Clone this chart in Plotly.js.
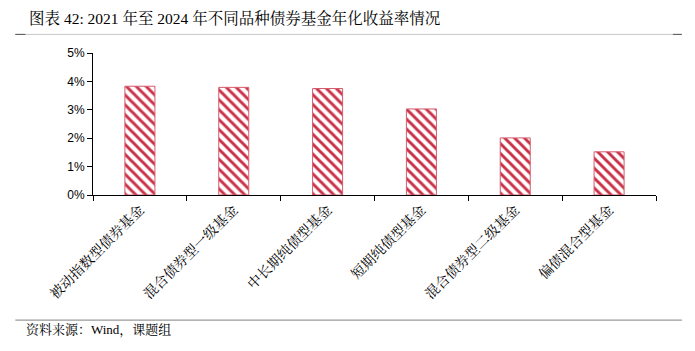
<!DOCTYPE html>
<html>
<head>
<meta charset="utf-8">
<script src="https://cdn.plot.ly/plotly-3.0.1.min.js"></script>
<style>html,body{margin:0;padding:0;background:#fff}#chart{width:695px;height:351px}</style>
</head>
<body>
<div id="chart"></div>
<script>
const categories = ["被动指数型债券基金", "混合债券型一级基金", "中长期纯债型基金", "短期纯债型基金", "混合债券型二级基金", "偏债混合型基金"];
const returns = [3.83, 3.79, 3.75, 3.03, 2.01, 1.52];
const yTickVals = [0, 1, 2, 3, 4, 5];
const yTickText = ["0%", "1%", "2%", "3%", "4%", "5%"];
const titleText = "图表 42: 2021 年至 2024 年不同品种债券基金年化收益率情况";
const sourceText = "资料来源：Wind，课题组";

const red = "#c92f46";
const serif = "'Liberation Serif', 'Noto Serif CJK SC', 'Noto Sans CJK SC', serif";

const trace = {
  type: "bar",
  x: categories,
  y: returns,
  width: 0.32,
  marker: {
    color: "#ffffff",
    line: {color: "#d65c6e", width: 1},
    pattern: {shape: "\\", fgcolor: red, fgopacity: 1, bgcolor: "#ffffff", size: 7, solidity: 0.42, fillmode: "replace"}
  },
  hoverinfo: "skip"
};

const layout = {
  width: 695, height: 351,
  margin: {l: 93, r: 39, t: 53, b: 156},
  paper_bgcolor: "#fff", plot_bgcolor: "#fff",
  showlegend: false,
  xaxis: {
    type: "category",
    showline: true, linecolor: "#000", linewidth: 1,
    ticks: "outside", ticklen: 5, tickcolor: "#000", tickson: "boundaries",
    tickangle: -45,
    tickfont: {family: serif, size: 14, color: "#000"},
    showgrid: false, zeroline: false, fixedrange: true
  },
  yaxis: {
    range: [0, 5],
    tickvals: yTickVals, ticktext: yTickText,
    showline: true, linecolor: "#000", linewidth: 1,
    ticks: "outside", ticklen: 5, tickcolor: "#000",
    tickfont: {family: "'Liberation Sans', Arial, sans-serif", size: 12, color: "#000"},
    showgrid: false, zeroline: false, fixedrange: true
  },
  shapes: [
    {type: "line", xref: "paper", yref: "paper", x0: -0.138, x1: 1.046, y0: 1.131, y1: 1.131, line: {color: "#c8c8c8", width: 1}},
    {type: "line", xref: "paper", yref: "paper", x0: -0.138, x1: -0.12, y0: 1.131, y1: 1.131, line: {color: "#555", width: 1}},
    {type: "line", xref: "paper", yref: "paper", x0: 1.03, x1: 1.046, y0: 1.131, y1: 1.131, line: {color: "#555", width: 1}},
    {type: "line", xref: "paper", yref: "paper", x0: -0.138, x1: 1.046, y0: -0.881, y1: -0.881, line: {color: "#808080", width: 1}}
  ],
  annotations: [
    {xref: "paper", yref: "paper", x: -0.118, y: 1.245, xanchor: "left", yanchor: "middle", showarrow: false,
     text: titleText, font: {family: serif, size: 15.5, color: "#000"}},
    {xref: "paper", yref: "paper", x: -0.123, y: -0.95, xanchor: "left", yanchor: "middle", showarrow: false,
     text: sourceText, font: {family: serif, size: 13, color: "#000"}}
  ]
};

Plotly.newPlot("chart", [trace], layout, {displayModeBar: false, staticPlot: true});
</script>
</body>
</html>
